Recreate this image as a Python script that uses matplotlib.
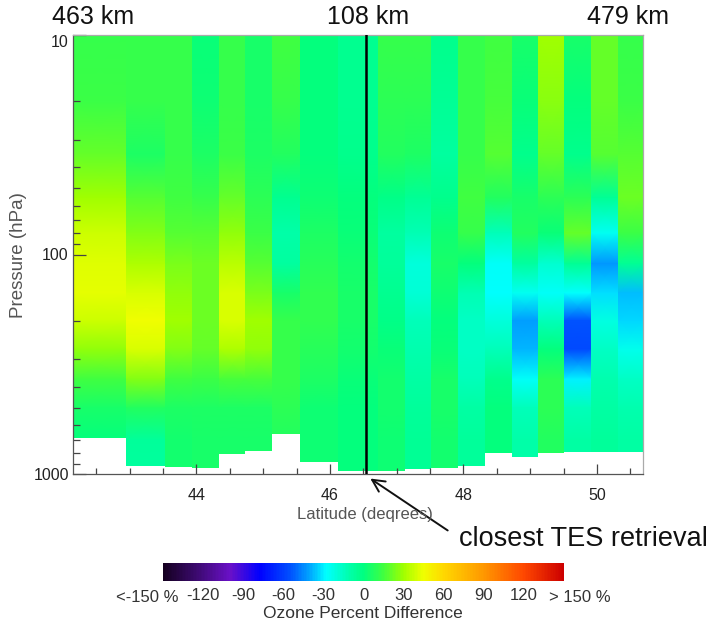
import numpy as np
import matplotlib
matplotlib.use("Agg")
import matplotlib.pyplot as plt
from matplotlib import font_manager as fm
from matplotlib.colors import LinearSegmentedColormap, Normalize
from matplotlib.patches import Rectangle, FancyArrowPatch
from matplotlib.ticker import FixedLocator, NullFormatter
import matplotlib.colorbar as mcolorbar

# ---------------- data ----------------
# latitude edges of each TES profile column (degrees)
lat_edges = [42.15, 42.94, 43.53, 43.94, 44.34, 44.73, 45.13, 45.55, 46.12,
             46.72, 47.13, 47.51, 47.92, 48.32, 48.73, 49.12, 49.51, 49.91,
             50.32, 50.69]
# surface pressure (bottom of each column, hPa)
surface_p = [684, 917, 927, 937, 813, 783, 659, 879, 966, 966, 952, 942,
             917, 805, 834, 805, 791, 791, 797]
# pressure levels of the profiles (hPa)
levels = [10, 20, 35, 55, 80, 110, 150, 200, 270, 370, 500, 700, 1000]
# ozone percent difference, one row per column, one value per level
ozone_pct_diff = [
    [12, 14, 20, 30, 38, 42, 43, 38, 28, 15, 5, 0, 0],
    [12, 12, 6, 18, 25, 32, 40, 45, 40, 25, 8, -6, -8],
    [12, 12, 12, 15, 18, 24, 28, 30, 25, 15, 6, 4, 4],
    [2, 3, 6, 12, 18, 22, 22, 22, 20, 13, 7, 5, 5],
    [12, 12, 14, 20, 28, 35, 40, 40, 32, 16, 7, 5, 5],
    [5, 5, 6, 10, 14, 18, 24, 30, 28, 16, 7, 5, 5],
    [15, 12, 8, -4, -10, -8, 5, 12, 12, 12, 10, 8, 8],
    [0, 0, 0, 3, 6, 9, 11, 11, 9, 6, 3, 3, 3],
    [-4, -4, -3, 0, 2, 4, 5, 5, 4, 2, 0, 0, 0],
    [12, 10, 8, -2, -8, -7, -4, -2, 2, 4, 4, 3, 3],
    [12, 10, 6, -5, -12, -20, -19, -14, -11, -9, -7, -5, -5],
    [-3, -5, -8, -3, 3, 5, 3, 0, 2, 5, 5, 4, 4],
    [12, 12, 12, 15, 12, 0, -12, -16, -16, -13, -9, -7, -7],
    [15, 16, 18, 8, -14, -26, -27, -21, -13, -3, 0, 0, 0],
    [5, 2, -3, 5, 8, -8, -25, -42, -38, -26, -14, -10, -10],
    [30, 26, 20, 10, 2, -18, -26, -14, 0, 10, 10, 8, 8],
    [5, 0, -3, 10, 20, -5, -28, -55, -57, -30, -14, -9, -9],
    [20, 20, 18, -5, -25, -43, -32, -22, -16, -11, -9, -7, -7],
    [12, 14, 18, 22, 14, -5, -37, -33, -24, -16, -11, -9, -9],
]
closest_lat = 46.54
dist_labels = ["463 km", "108 km", "479 km"]
x_ticks = [44, 46, 48, 50]
y_ticks = [10, 100, 1000]
cbar_ticks = [-120, -90, -60, -30, 0, 30, 60, 90, 120]
cbar_end_labels = ["<-150 %", "> 150 %"]

# ---------------- style ----------------
def pick(fams):
    for f in fams:
        try:
            fm.findfont(fm.FontProperties(family=f), fallback_to_default=False)
            return f
        except Exception:
            pass
    return "DejaVu Sans"

NARROW = pick(["Liberation Sans Narrow", "Arial Narrow", "Liberation Sans"])
REG = pick(["Liberation Sans", "Arial", "DejaVu Sans"])

cmap_nodes = [(-150, "#150020"), (-125, "#3c0a70"), (-100, "#6a10c8"),
              (-78, "#0000ff"), (-55, "#0050ff"), (-40, "#00a8ff"),
              (-28, "#00ffff"), (-10, "#00ffa8"), (0, "#00ff80"),
              (15, "#40ff40"), (30, "#a0ff00"), (45, "#f0ff00"),
              (60, "#ffd800"), (90, "#ff9800"), (120, "#ff4800"),
              (150, "#cc0000")]
cmap = LinearSegmentedColormap.from_list(
    "ozone", [((v + 150) / 300.0, c) for v, c in cmap_nodes])
norm = Normalize(-150, 150)

W, H = 726, 626
fig = plt.figure(figsize=(W / 100, H / 100), dpi=100)
fig.patch.set_facecolor("white")

L, R, T, B = 73, 643, 35, 474
ax = fig.add_axes([L / W, 1 - B / H, (R - L) / W, (B - T) / H])
ax.set_yscale("log")
ax.set_xlim(lat_edges[0], lat_edges[-1])
ax.set_ylim(1000, 10)

for i, prof in enumerate(ozone_pct_diff):
    x0, x1 = lat_edges[i], lat_edges[i + 1]
    X = np.array([[x0, x1] for _ in levels], dtype=float)
    Y = np.array([[p, p] for p in levels], dtype=float)
    C = np.array([[v, v] for v in prof], dtype=float)
    m = ax.pcolormesh(X, Y, C, shading="gouraud", cmap=cmap, norm=norm,
                      zorder=1)
    clip = Rectangle((x0, 10), x1 - x0, surface_p[i] - 10,
                     transform=ax.transData)
    m.set_clip_path(clip)

ax.axvline(closest_lat, color="black", lw=1.8, zorder=5)

for s in ax.spines.values():
    s.set_linewidth(0.9)
ax.spines["left"].set_color("#555555")
ax.spines["bottom"].set_color("#555555")
ax.spines["top"].set_color("#aaaaaa")
ax.spines["right"].set_color("#aaaaaa")

ax.xaxis.set_major_locator(FixedLocator(x_ticks))
ax.xaxis.set_minor_locator(FixedLocator(np.arange(42.5, 50.6, 0.5)))
ax.set_xticklabels([str(t) for t in x_ticks])
ax.yaxis.set_major_locator(FixedLocator(y_ticks))
ax.yaxis.set_minor_locator(FixedLocator(list(range(20, 100, 10)) + list(range(200, 1000, 100))))
ax.set_yticklabels([str(t) for t in y_ticks])
ax.yaxis.set_minor_formatter(NullFormatter())
ax.xaxis.set_minor_formatter(NullFormatter())

ax.tick_params(axis="both", which="both", direction="in", color="#444444",
               width=0.9)
ax.tick_params(axis="y", which="major", length=9, pad=3, labelsize=11.5)
ax.tick_params(axis="y", which="minor", length=5)
ax.tick_params(axis="x", which="major", length=7, pad=10, labelsize=11.5)
ax.tick_params(axis="x", which="minor", length=4)
for lab in ax.get_xticklabels() + ax.get_yticklabels():
    lab.set_family(NARROW)
    lab.set_color("#222222")
# top label sits just below the top tick, as in the reference
ax.get_yticklabels()[0].set_verticalalignment("top")

def fpx(x, y):
    return x / W, 1 - y / H

fig.text(*fpx(365, 515), "Latitude (deqrees)", ha="center", va="center",
         fontsize=12, family=NARROW, color="#555555")
fig.text(*fpx(19, 255), "Pressure (hPa)", ha="center", va="center",
         rotation=90, fontsize=13.5, family=REG, color="#555555")

for (x, lab) in zip([93, 368, 628], dist_labels):
    fig.text(*fpx(x, 17), lab, ha="center", va="center", fontsize=18,
             family=REG, color="#111111")

fig.text(*fpx(459, 539), "closest TES retrieval", ha="left", va="center",
         fontsize=19.5, family=REG, color="#111111")
fig.add_artist(FancyArrowPatch(
    posA=(450, H - 532), posB=(368, H - 477), transform=None,
    arrowstyle="->", mutation_scale=22, lw=1.4, color="#111111"))

# colorbar
cax = fig.add_axes([163 / W, 1 - 581 / H, 401 / W, 18 / H])
cb = mcolorbar.ColorbarBase(cax, cmap=cmap, norm=norm, orientation="horizontal",
                            ticks=cbar_ticks)
cb.outline.set_visible(False)
cax.tick_params(length=0, pad=5, labelsize=12)
cax.set_xticklabels([str(t) for t in cbar_ticks])
for lab in cax.get_xticklabels():
    lab.set_family(NARROW)
    lab.set_color("#333333")
fig.text(*fpx(147, 597), cbar_end_labels[0], ha="center", va="center",
         fontsize=12, family=NARROW, color="#333333")
fig.text(*fpx(580, 597), cbar_end_labels[1], ha="center", va="center",
         fontsize=12, family=NARROW, color="#333333")
fig.text(*fpx(363, 613), "Ozone Percent Difference", ha="center", va="center",
         fontsize=12.5, family=NARROW, color="#333333")

fig.savefig("out.png", dpi=100, facecolor="white")
